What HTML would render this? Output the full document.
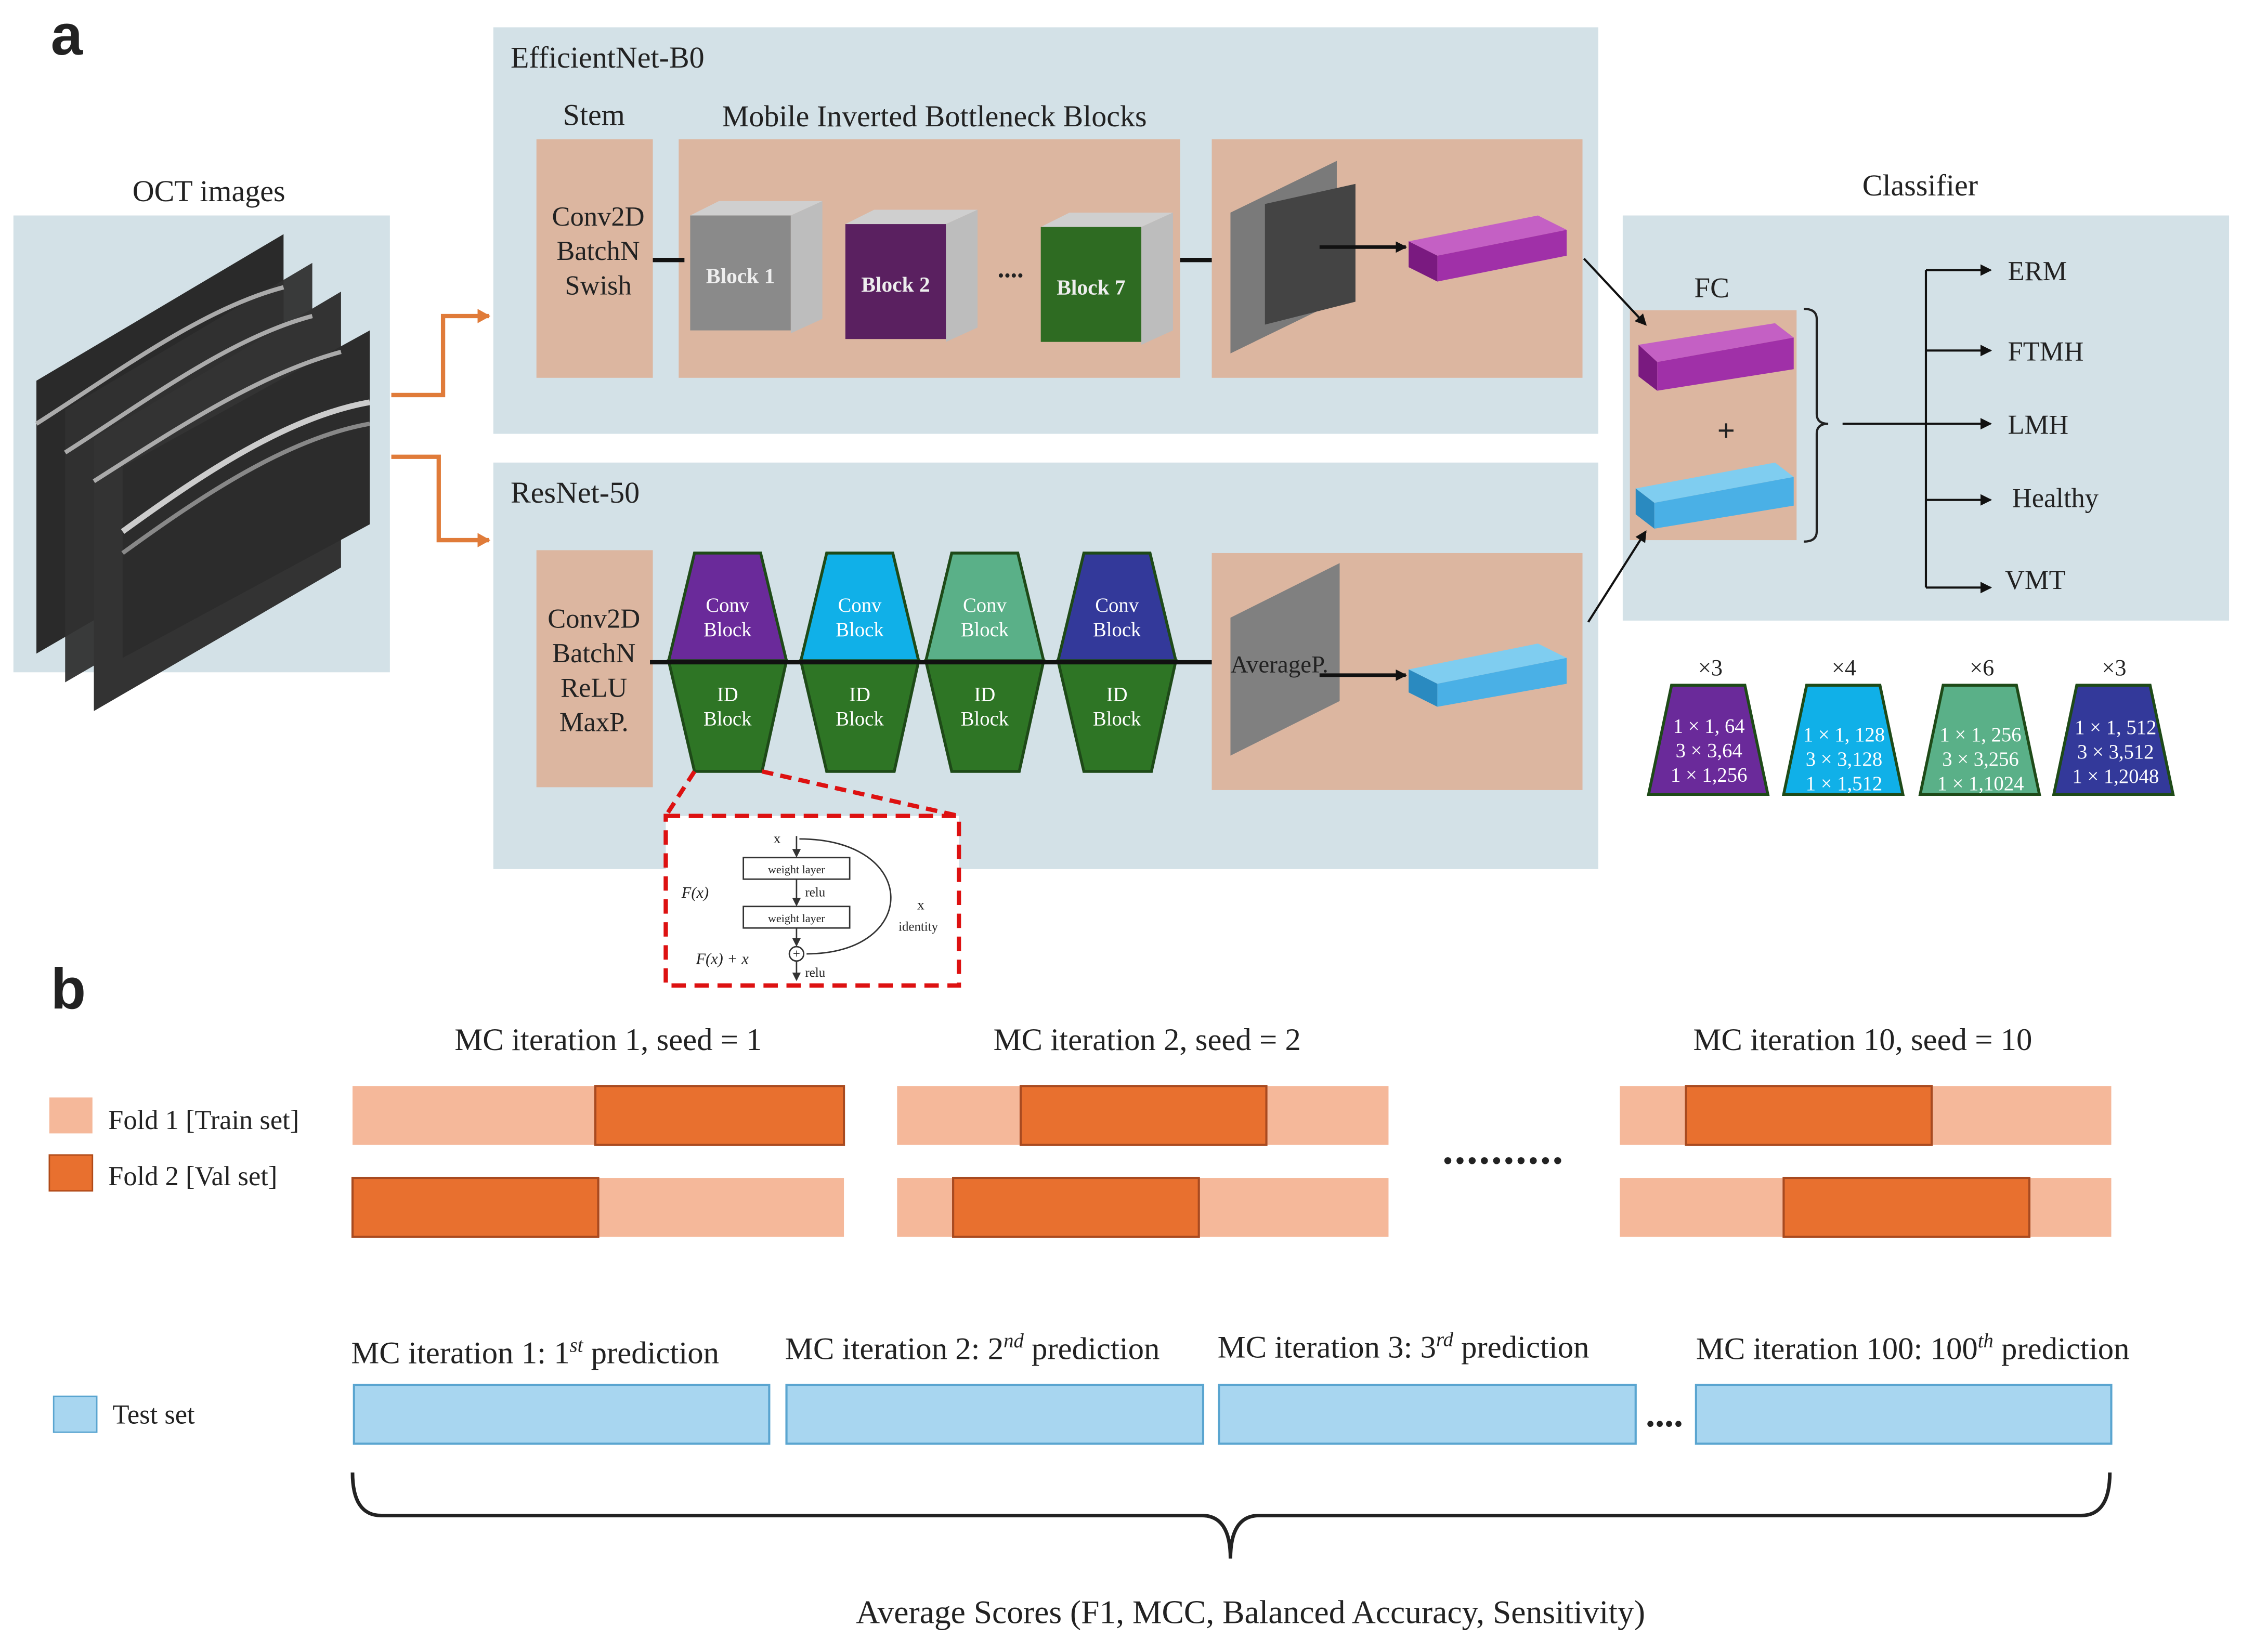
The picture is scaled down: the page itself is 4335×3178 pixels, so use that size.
<!DOCTYPE html>
<html><head><meta charset="utf-8"><style>
html,body{margin:0;padding:0;background:#fff}
svg{display:block}
text{font-family:"Liberation Serif",serif;fill:#222}
</style></head><body>
<svg width="4335" height="3178" viewBox="0 0 1568 1150" xmlns="http://www.w3.org/2000/svg">
<defs>
<marker id="ah" markerWidth="8" markerHeight="8" refX="7" refY="4" orient="auto" markerUnits="userSpaceOnUse"><path d="M0,0 L8,4 L0,8 z" fill="#111"/></marker>
<marker id="oa" markerWidth="10" markerHeight="10" refX="8" refY="5" orient="auto" markerUnits="userSpaceOnUse"><path d="M0,0 L9,5 L0,10 z" fill="#e07b39"/></marker>
<marker id="sa" markerWidth="6" markerHeight="6" refX="5" refY="3" orient="auto" markerUnits="userSpaceOnUse"><path d="M0,0 L6,3 L0,6 z" fill="#333"/></marker>
</defs>
<text x="35" y="38" font-weight="bold" font-size="40" style="font-family:'Liberation Sans',sans-serif">a</text>
<text x="35" y="702" font-weight="bold" font-size="40" style="font-family:'Liberation Sans',sans-serif">b</text>

<!-- OCT -->
<text x="145" y="140" font-size="21" text-anchor="middle">OCT images</text>
<rect x="9" y="150" width="262" height="318" fill="#d3e1e7"/>
<g>
<polygon points="25,265 197,163 197,355 25,455" fill="#2a2a2a"/>
<polygon points="45,285 217,183 217,375 45,475" fill="#303030" opacity="0.95"/>
<polygon points="65,305 237,203 237,395 65,495" fill="#333"/>
<polygon points="85,325 257,230 257,365 85,458" fill="#2c2c2c"/>
<path d="M25,295 C80,260 140,215 197,200" stroke="#aaa" stroke-width="3" fill="none"/>
<path d="M45,315 C100,280 160,235 217,220" stroke="#aaa" stroke-width="3" fill="none"/>
<path d="M65,335 C120,300 180,260 237,245" stroke="#aaa" stroke-width="3" fill="none"/>
<path d="M85,370 C140,330 200,290 257,280" stroke="#ccc" stroke-width="4" fill="none"/>
<path d="M85,385 C140,345 200,305 257,295" stroke="#888" stroke-width="3" fill="none"/>
</g>
<polyline points="272,275 308,275 308,220 340,220" fill="none" stroke="#e07b39" stroke-width="3" marker-end="url(#oa)"/>
<polyline points="272,318 305,318 305,376 340,376" fill="none" stroke="#e07b39" stroke-width="3" marker-end="url(#oa)"/>

<!-- EfficientNet -->
<rect x="343" y="19" width="769" height="283" fill="#d3e1e7"/>
<text x="355" y="47" font-size="21">EfficientNet-B0</text>
<text x="413" y="87" font-size="21" text-anchor="middle">Stem</text>
<text x="650" y="88" font-size="21" text-anchor="middle">Mobile Inverted Bottleneck Blocks</text>
<rect x="373" y="97" width="81" height="166" fill="#dcb6a0"/>
<rect x="472" y="97" width="349" height="166" fill="#dcb6a0"/>
<rect x="843" y="97" width="258" height="166" fill="#dcb6a0"/>
<text x="416" y="157" font-size="19" text-anchor="middle">Conv2D</text>
<text x="416" y="181" font-size="19" text-anchor="middle">BatchN</text>
<text x="416" y="205" font-size="19" text-anchor="middle">Swish</text>
<line x1="454" y1="181" x2="476" y2="181" stroke="#111" stroke-width="3"/>
<line x1="821" y1="181" x2="843" y2="181" stroke="#111" stroke-width="3"/>
<g>
<polygon points="480,150 550,150 572,140 500,140" fill="#cfcfcf"/><rect x="480" y="150" width="70" height="80" fill="#8a8a8a"/><polygon points="550,150 572,140 572,222 550,232" fill="#bdbdbd"/>
<text x="515" y="197" font-size="15" font-weight="bold" text-anchor="middle" style="fill:#eee">Block 1</text>
<polygon points="588,156 658,156 680,146 608,146" fill="#cfcfcf"/><rect x="588" y="156" width="70" height="80" fill="#5a2060"/><polygon points="658,156 680,146 680,228 658,238" fill="#bdbdbd"/>
<text x="623" y="203" font-size="15" font-weight="bold" text-anchor="middle" style="fill:#eee">Block 2</text>
<text x="703" y="193" font-size="18" font-weight="bold" text-anchor="middle">....</text>
<polygon points="724,158 794,158 816,148 744,148" fill="#cfcfcf"/><rect x="724" y="158" width="70" height="80" fill="#2e6b22"/><polygon points="794,158 816,148 816,230 794,240" fill="#bdbdbd"/>
<text x="759" y="205" font-size="15" font-weight="bold" text-anchor="middle" style="fill:#eee">Block 7</text>
</g>
<polygon points="856,148 930,112 930,210 856,246" fill="#7a7a7a"/>
<polygon points="880,142 943,128 943,210 880,226" fill="#444"/>
<line x1="918" y1="172" x2="978" y2="172" stroke="#111" stroke-width="2.5" marker-end="url(#ah)"/>
<polygon points="980,168 1070,150 1090,160 1000,178" fill="#c460c4"/>
<polygon points="980,168 1000,178 1000,196 980,186" fill="#7a1a80"/>
<polygon points="1000,178 1090,160 1090,178 1000,196" fill="#a030a8"/>

<!-- ResNet -->
<rect x="343" y="322" width="769" height="283" fill="#d3e1e7"/>
<text x="355" y="350" font-size="21">ResNet-50</text>
<rect x="373" y="383" width="81" height="165" fill="#dcb6a0"/>
<rect x="843" y="385" width="258" height="165" fill="#dcb6a0"/>
<text x="413" y="437" font-size="19" text-anchor="middle">Conv2D</text>
<text x="413" y="461" font-size="19" text-anchor="middle">BatchN</text>
<text x="413" y="485" font-size="19" text-anchor="middle">ReLU</text>
<text x="413" y="509" font-size="19" text-anchor="middle">MaxP.</text>
<g stroke="#1e4a18" stroke-width="2">
<polygon points="483,385 529,385 547,460 465,460" fill="#6a2a9a"/>
<polygon points="465,460 547,460 530,537 483,537" fill="#2e7525"/>
<polygon points="575,385 621,385 639,460 557,460" fill="#10b0e8"/>
<polygon points="557,460 639,460 622,537 575,537" fill="#2e7525"/>
<polygon points="662,385 708,385 726,460 644,460" fill="#5ab088"/>
<polygon points="644,460 726,460 709,537 662,537" fill="#2e7525"/>
<polygon points="754,385 800,385 818,460 736,460" fill="#33399a"/>
<polygon points="736,460 818,460 801,537 754,537" fill="#2e7525"/>
</g>
<line x1="452" y1="461" x2="843" y2="461" stroke="#111" stroke-width="3"/>
<g font-size="14" text-anchor="middle">
<text x="506" y="426" style="fill:#fff">Conv</text><text x="506" y="443" style="fill:#fff">Block</text>
<text x="598" y="426" style="fill:#fff">Conv</text><text x="598" y="443" style="fill:#fff">Block</text>
<text x="685" y="426" style="fill:#fff">Conv</text><text x="685" y="443" style="fill:#fff">Block</text>
<text x="777" y="426" style="fill:#fff">Conv</text><text x="777" y="443" style="fill:#fff">Block</text>
<text x="506" y="488" style="fill:#fff">ID</text><text x="506" y="505" style="fill:#fff">Block</text>
<text x="598" y="488" style="fill:#fff">ID</text><text x="598" y="505" style="fill:#fff">Block</text>
<text x="685" y="488" style="fill:#fff">ID</text><text x="685" y="505" style="fill:#fff">Block</text>
<text x="777" y="488" style="fill:#fff">ID</text><text x="777" y="505" style="fill:#fff">Block</text>
</g>
<polygon points="856,430 932,392 932,488 856,526" fill="#808080"/>
<text x="856" y="468" font-size="17">AverageP.</text>
<line x1="918" y1="470" x2="978" y2="470" stroke="#111" stroke-width="2.5" marker-end="url(#ah)"/>
<polygon points="980,466 1070,448 1090,458 1000,476" fill="#7fcdf0"/>
<polygon points="980,466 1000,476 1000,492 980,482" fill="#2a8ac0"/>
<polygon points="1000,476 1090,458 1090,476 1000,492" fill="#4ab0e6"/>

<polyline points="483,537 463,568" stroke="#d11" stroke-width="3" stroke-dasharray="8,5" fill="none"/>
<polyline points="530,537 667,568" stroke="#d11" stroke-width="3" stroke-dasharray="8,5" fill="none"/>
<rect x="463" y="568" width="204" height="118" fill="#fff" stroke="#d11" stroke-width="3" stroke-dasharray="10,6"/>
<g font-size="10" style="font-family:'Liberation Sans',sans-serif">
<text x="538" y="587">x</text>
<line x1="554" y1="582" x2="554" y2="596" stroke="#333" marker-end="url(#sa)"/>
<rect x="517" y="597" width="74" height="15" fill="#fff" stroke="#333"/>
<text x="554" y="608" font-size="8" text-anchor="middle">weight layer</text>
<line x1="554" y1="612" x2="554" y2="630" stroke="#333" marker-end="url(#sa)"/>
<text x="560" y="624" font-size="9">relu</text>
<rect x="517" y="631" width="74" height="15" fill="#fff" stroke="#333"/>
<text x="554" y="642" font-size="8" text-anchor="middle">weight layer</text>
<line x1="554" y1="646" x2="554" y2="658" stroke="#333" marker-end="url(#sa)"/>
<circle cx="554" cy="664" r="5" fill="#fff" stroke="#333"/>
<text x="554" y="667" font-size="9" text-anchor="middle">+</text>
<path d="M556,584 C640,584 640,664 561,664" fill="none" stroke="#333"/>
<line x1="554" y1="669" x2="554" y2="682" stroke="#333" marker-end="url(#sa)"/>
<text x="560" y="680" font-size="9">relu</text>
<text x="474" y="625" font-size="11" font-style="italic">F(x)</text>
<text x="484" y="671" font-size="11" font-style="italic">F(x) + x</text>
<text x="638" y="633" font-size="10">x</text>
<text x="625" y="648" font-size="9">identity</text>
</g>

<!-- Classifier -->
<text x="1336" y="136" font-size="21" text-anchor="middle">Classifier</text>
<rect x="1129" y="150" width="422" height="282" fill="#d3e1e7"/>
<text x="1191" y="207" font-size="20" text-anchor="middle">FC</text>
<rect x="1134" y="216" width="116" height="160" fill="#dcb6a0"/>
<line x1="1102" y1="180" x2="1145" y2="226" stroke="#111" stroke-width="1.5" marker-end="url(#ah)"/>
<line x1="1105" y1="433" x2="1145" y2="370" stroke="#111" stroke-width="1.5" marker-end="url(#ah)"/>
<polygon points="1140,240 1235,225 1248,235 1153,252" fill="#c460c4"/>
<polygon points="1140,240 1153,252 1153,272 1140,262" fill="#7a1a80"/>
<polygon points="1153,252 1248,235 1248,257 1153,272" fill="#a030a8"/>
<text x="1201" y="307" font-size="22" font-weight="bold" text-anchor="middle">+</text>
<polygon points="1138,340 1235,322 1248,332 1151,350" fill="#7fcdf0"/>
<polygon points="1138,340 1151,350 1151,368 1138,358" fill="#2a8ac0"/>
<polygon points="1151,350 1248,332 1248,352 1151,368" fill="#4ab0e6"/>
<path d="M1255,215 Q1264,215 1264,222 L1264,288 Q1264,295 1272,295 Q1264,295 1264,302 L1264,370 Q1264,377 1255,377" fill="none" stroke="#222" stroke-width="1.5"/>
<line x1="1282" y1="295" x2="1340" y2="295" stroke="#111" stroke-width="1.5"/>
<line x1="1340" y1="188" x2="1340" y2="409" stroke="#111" stroke-width="1.5"/>
<g stroke="#111" stroke-width="1.5">
<line x1="1340" y1="188" x2="1385" y2="188" marker-end="url(#ah)"/>
<line x1="1340" y1="244" x2="1385" y2="244" marker-end="url(#ah)"/>
<line x1="1340" y1="295" x2="1385" y2="295" marker-end="url(#ah)"/>
<line x1="1340" y1="348" x2="1385" y2="348" marker-end="url(#ah)"/>
<line x1="1340" y1="409" x2="1385" y2="409" marker-end="url(#ah)"/>
</g>
<g font-size="19">
<text x="1397" y="195">ERM</text><text x="1397" y="251">FTMH</text><text x="1397" y="302">LMH</text>
<text x="1400" y="353">Healthy</text><text x="1395" y="410">VMT</text>
</g>
<g font-size="16" text-anchor="middle">
<text x="1190" y="470">×3</text><text x="1283" y="470">×4</text><text x="1379" y="470">×6</text><text x="1471" y="470">×3</text>
</g>
<g stroke="#1e4a18" stroke-width="2">
<polygon points="1163,477 1214,477 1230,553 1147,553" fill="#6a2a9a"/>
<polygon points="1257,477 1308,477 1324,553 1241,553" fill="#10b0e8"/>
<polygon points="1352,477 1403,477 1419,553 1336,553" fill="#5ab088"/>
<polygon points="1445,477 1496,477 1512,553 1429,553" fill="#33399a"/>
</g>
<g font-size="14" text-anchor="middle">
<text x="1189" y="510" style="fill:#fff">1 × 1, 64</text><text x="1189" y="527" style="fill:#fff">3 × 3,64</text><text x="1189" y="544" style="fill:#fff">1 × 1,256</text>
<text x="1283" y="516" style="fill:#fff">1 × 1, 128</text><text x="1283" y="533" style="fill:#fff">3 × 3,128</text><text x="1283" y="550" style="fill:#fff">1 × 1,512</text>
<text x="1378" y="516" style="fill:#fff">1 × 1, 256</text><text x="1378" y="533" style="fill:#fff">3 × 3,256</text><text x="1378" y="550" style="fill:#fff">1 × 1,1024</text>
<text x="1472" y="511" style="fill:#fff">1 × 1, 512</text><text x="1472" y="528" style="fill:#fff">3 × 3,512</text><text x="1472" y="545" style="fill:#fff">1 × 1,2048</text>
</g>

<!-- part b -->
<g font-size="22" text-anchor="middle">
<text x="423" y="731">MC iteration 1, seed = 1</text>
<text x="798" y="731">MC iteration 2, seed = 2</text>
<text x="1296" y="731">MC iteration 10, seed = 10</text>
</g>
<rect x="34" y="764" width="30" height="25" fill="#f5b89a"/>
<rect x="34" y="804" width="30" height="25" fill="#e8702f" stroke="#b04a18"/>
<text x="75" y="786" font-size="19">Fold 1 [Train set]</text>
<text x="75" y="825" font-size="19">Fold 2 [Val set]</text>
<g>
<rect x="245" y="756" width="342" height="41" fill="#f5b89a"/><rect x="414" y="756" width="173" height="41" fill="#e8702f" stroke="#a84a20" stroke-width="1.5"/>
<rect x="245" y="820" width="342" height="41" fill="#f5b89a"/><rect x="245" y="820" width="171" height="41" fill="#e8702f" stroke="#a84a20" stroke-width="1.5"/>
<rect x="624" y="756" width="342" height="41" fill="#f5b89a"/><rect x="710" y="756" width="171" height="41" fill="#e8702f" stroke="#a84a20" stroke-width="1.5"/>
<rect x="624" y="820" width="342" height="41" fill="#f5b89a"/><rect x="663" y="820" width="171" height="41" fill="#e8702f" stroke="#a84a20" stroke-width="1.5"/>
<rect x="1127" y="756" width="342" height="41" fill="#f5b89a"/><rect x="1173" y="756" width="171" height="41" fill="#e8702f" stroke="#a84a20" stroke-width="1.5"/>
<rect x="1127" y="820" width="342" height="41" fill="#f5b89a"/><rect x="1241" y="820" width="171" height="41" fill="#e8702f" stroke="#a84a20" stroke-width="1.5"/>
</g>
<text x="1046" y="810" font-size="30" font-weight="bold" text-anchor="middle" letter-spacing="1">..........</text>

<g font-size="22">
<text x="244" y="949">MC iteration 1: 1<tspan font-style="italic" font-size="14" dy="-8">st</tspan><tspan dy="8"> prediction</tspan></text>
<text x="546" y="946">MC iteration 2: 2<tspan font-style="italic" font-size="14" dy="-8">nd</tspan><tspan dy="8"> prediction</tspan></text>
<text x="847" y="945">MC iteration 3: 3<tspan font-style="italic" font-size="14" dy="-8">rd</tspan><tspan dy="8"> prediction</tspan></text>
<text x="1180" y="946">MC iteration 100: 100<tspan font-style="italic" font-size="14" dy="-8">th</tspan><tspan dy="8"> prediction</tspan></text>
</g>
<rect x="37" y="972" width="30" height="25" fill="#a8d6f0" stroke="#5aa5d0"/>
<text x="78" y="991" font-size="19">Test set</text>
<g fill="#a8d6f0" stroke="#5aa5d0" stroke-width="1.5">
<rect x="246" y="964" width="289" height="41"/><rect x="547" y="964" width="290" height="41"/>
<rect x="848" y="964" width="290" height="41"/><rect x="1180" y="964" width="289" height="41"/>
</g>
<text x="1158" y="993" font-size="26" font-weight="bold" text-anchor="middle">....</text>
<path d="M245,1025 Q245,1055 265,1055 L836,1055 Q856,1055 856,1085 Q856,1055 876,1055 L1448,1055 Q1468,1055 1468,1025" fill="none" stroke="#222" stroke-width="2.5"/>
<text x="870" y="1130" font-size="23" text-anchor="middle">Average Scores (F1, MCC, Balanced Accuracy, Sensitivity)</text>
</svg>
</body></html>
